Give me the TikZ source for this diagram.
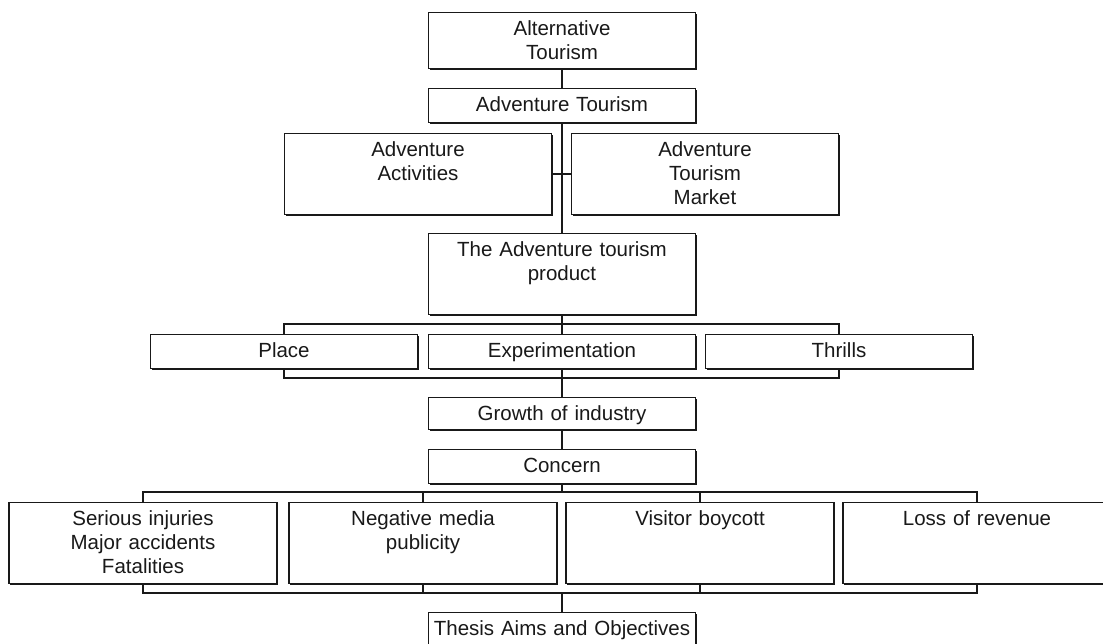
\documentclass[tikz,border=0pt]{standalone}
\usepackage{fontspec}
\setmainfont{Liberation Sans}
\usetikzlibrary{shadows}
\tikzset{
	box/.style={draw=black!90, text=black!90, fill=white, line width=1.2pt, anchor=north, text width=267pt, align=center, inner xsep=0pt, inner ysep=0pt, text height=23pt, text depth=11pt, font=\fontsize{20.5}{24}\selectfont, drop shadow={shadow xshift=1pt, shadow yshift=-1pt, fill=black!90, opacity=1}},
	tall/.style={box, text depth=58pt},
	conn/.style={draw=black!90, line width=1.3pt}
}
\begin{document}
\begin{tikzpicture}[x=1pt, y=-1pt]
		\useasboundingbox (0,0) rectangle (1103,644);
		\node[box, text depth=33pt] (alt) at (562,12) {Alternative\\Tourism};
		\node[box] (advt) at (562,88) {Adventure Tourism};
		\node[tall] (act) at (418,133) {Adventure\\Activities};
		\node[tall] (mkt) at (705,133) {Adventure\\Tourism\\Market};
		\node[tall] (prod) at (562,233) {The Adventure tourism\\product};
		\node[box] (place) at (284,334) {Place};
		\node[box] (exper) at (562,334) {Experimentation};
		\node[box] (thrill) at (839,334) {Thrills};
		\node[box, text depth=9pt] (growth) at (562,397) {Growth of industry};
		\node[box] (concern) at (562,449) {Concern};
		\node[tall, text width=268pt] (inj) at (143,502) {Serious injuries\\Major accidents\\Fatalities};
		\node[tall, text width=268pt] (media) at (423,502) {Negative media\\publicity};
		\node[tall, text width=268pt] (boycott) at (700,502) {Visitor boycott};
		\node[tall, text width=268pt] (revenue) at (977,502) {Loss of revenue};
		\node[box] (aims) at (562,612) {Thesis Aims and Objectives};
		\coordinate (t1) at (562,324);
		\coordinate (b1) at (562,378);
		\coordinate (t2) at (562,492);
		\coordinate (b2) at (562,593);
		\path[conn]
		(alt) -- (advt)
		(advt) -- (prod)
		(act) -- (mkt)
		(prod) -- (exper)
		(place.north) |- (t1) -| (thrill.north)
		(place.south) |- (b1) -| (thrill.south)
		(exper) -- (growth)
		(growth) -- (concern)
		(concern) -- (t2)
		(inj.north) |- (t2) -| (revenue.north)
		(media.north) |- (t2)
		(boycott.north) |- (t2)
		(inj.south) |- (b2) -| (revenue.south)
		(media.south) |- (b2)
		(boycott.south) |- (b2)
		(b2) -- (aims);
	\end{tikzpicture}
\end{document}
